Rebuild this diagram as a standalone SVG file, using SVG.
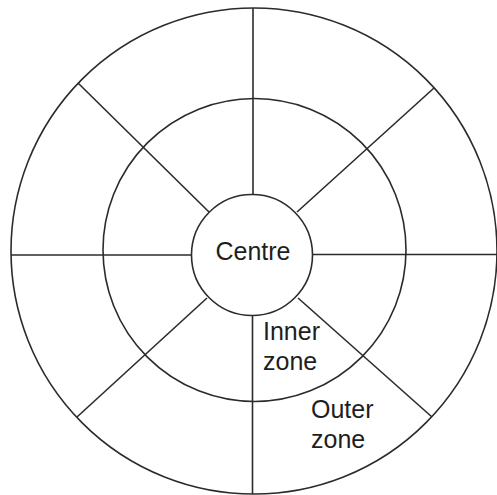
<svg xmlns="http://www.w3.org/2000/svg" width="497" height="495" viewBox="0 0 497 495">
<style>
.ring{fill:none;stroke:#2b2b2b;stroke-width:1.6}
.spoke{stroke:#2b2b2b;stroke-width:1.6;fill:none}
.lbl{font-family:"Liberation Sans",Arial,sans-serif;font-size:25px;fill:#1e1e1e}
</style>
<rect width="497" height="495" fill="#ffffff"/>
<g id="outer-zone">
<circle class="ring" cx="254" cy="251" r="243"/>
</g>
<g id="inner-zone">
<circle class="ring" cx="254.5" cy="250" r="151.5"/>
</g>
<g id="connectors">
<line class="spoke" x1="253" y1="8" x2="253" y2="195"/>
<line class="spoke" x1="252.5" y1="315" x2="252.5" y2="494"/>
<line class="spoke" x1="11" y1="255" x2="192" y2="255"/>
<line class="spoke" x1="312" y1="254.5" x2="497" y2="254.5"/>
<line class="spoke" x1="78" y1="83" x2="209" y2="212"/>
<line class="spoke" x1="434" y1="88" x2="297" y2="212"/>
<line class="spoke" x1="77" y1="417" x2="207" y2="298"/>
<line class="spoke" x1="432" y1="417" x2="298" y2="298"/>
</g>
<g id="centre">
<circle cx="252" cy="255" r="60.5" fill="#ffffff" stroke="#2b2b2b" stroke-width="1.6"/>
<text class="lbl" x="253" y="260" text-anchor="middle">Centre</text>
</g>
<g id="inner-label">
<text class="lbl" x="263" y="340">Inner</text>
<text class="lbl" x="263" y="370">zone</text>
</g>
<g id="outer-label">
<text class="lbl" x="311" y="418">Outer</text>
<text class="lbl" x="311" y="448">zone</text>
</g>
</svg>
